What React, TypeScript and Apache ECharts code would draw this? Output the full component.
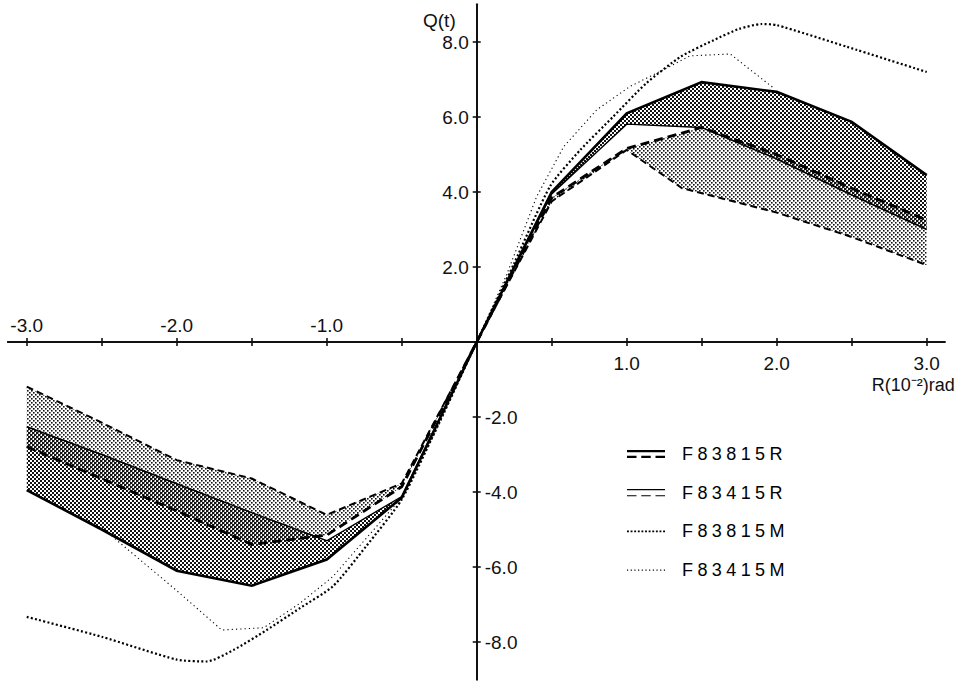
import React, { useEffect, useRef } from "react";
import * as echarts from "echarts";

type Pt = [number, number];

// ---- data (x in 10^-2 rad, y = Q(t)) ----
const F83815R_SOLID: Pt[] = [
  [-3, -3.95], [-2.5, -5.0], [-2, -6.1], [-1.5, -6.5], [-1, -5.8], [-0.5, -4.15], [0, 0],
  [0.5, 4.0], [1, 6.1], [1.5, 6.93], [2, 6.67], [2.5, 5.87], [3, 4.45],
];
const F83815R_DASHED: Pt[] = [
  [-3, -2.79], [-2.5, -3.65], [-2, -4.5], [-1.5, -5.4], [-1, -5.15], [-0.5, -3.86], [0, 0],
  [0.5, 3.85], [1, 5.16], [1.5, 5.72], [2, 5.0], [2.5, 4.1], [3, 3.25],
];
const F83415R_SOLID: Pt[] = [
  [-3, -2.26], [-2.5, -3.0], [-2, -3.78], [-1.5, -4.55], [-1, -5.3], [-0.5, -4.12], [0, 0],
  [0.5, 3.95], [1, 5.81], [1.5, 5.72], [2, 4.88], [2.5, 3.92], [3, 3.0],
];
const F83415R_DASHED: Pt[] = [
  [-3, -1.19], [-2.5, -2.15], [-2, -3.15], [-1.5, -3.64], [-1, -4.61], [-0.5, -3.77], [0, 0],
  [0.5, 3.75], [1, 5.12], [1.37, 4.1], [2, 3.45], [2.5, 2.8], [3, 2.05],
];
const F83815M: Pt[] = [
  [-3, -7.33], [-2.5, -7.86], [-2, -8.47], [-1.8, -8.52], [-1.62, -8.21], [-1.4, -7.68],
  [-1.18, -7.1], [-0.96, -6.52], [-0.74, -5.46], [-0.5, -4.2], [-0.25, -2.15], [0, 0],
  [0.25, 2.1], [0.49, 4.16], [0.69, 5.12], [0.91, 6.01], [1.13, 6.9], [1.36, 7.61],
  [1.58, 8.05], [1.75, 8.35], [1.9, 8.48], [2.0, 8.45], [2.47, 7.87], [3.0, 7.2],
];
const F83415M: Pt[] = [
  [-2.5, -4.95], [-2.0, -6.63], [-1.7, -7.68], [-1.42, -7.62], [-1.18, -6.97], [-0.96, -6.26],
  [-0.74, -5.25], [-0.49, -4.1], [-0.25, -2.2], [0, 0], [0.2, 1.8], [0.4, 3.88], [0.58, 5.21],
  [0.8, 6.19], [1.02, 6.81], [1.24, 7.25], [1.42, 7.63], [1.69, 7.68], [1.91, 6.99], [1.98, 6.77],
];

const X_TICKS = [-3, -2.5, -2, -1.5, -1, -0.5, 0.5, 1, 1.5, 2, 2.5, 3];
const X_LABELS_TOP = [-3, -2, -1];
const X_LABELS_BOTTOM = [1, 2, 3];
const Y_TICKS = [-8, -6, -4, -2, 2, 4, 6, 8];
const Y_LABELS_LEFT = [2, 4, 6, 8];
const Y_LABELS_RIGHT = [-8, -6, -4, -2];
const LEGEND_NAMES = ["F83815R", "F83415R", "F83815M", "F83415M"];
const X_NAME = "R(10⁻²)rad";
const Y_NAME = "Q(t)";

const FONT = "'Liberation Sans', Arial, sans-serif";
const INK = "#111";
const LEGEND_INK = "#010101";

// layout (pixels)
const W = 964;
const H = 681;
const GRID = { left: 8, right: 19.3, top: 4.5, bottom: 1.5 };
const X_RANGE = [-3.125, 3.12];
const Y_RANGE = [-9, 9];

function bandPoints(a: Pt[], b: Pt[], lo: number, hi: number): Pt[] {
  const inA = a.filter((p) => p[0] >= lo && p[0] <= hi);
  const inB = b.filter((p) => p[0] >= lo && p[0] <= hi).reverse();
  return inA.concat(inB);
}

const BAND_REGIONS = [
  { a: F83815R_DASHED, b: F83415R_DASHED, lo: -3, hi: 0, kind: "light" },
  { a: F83815R_DASHED, b: F83415R_DASHED, lo: 0, hi: 3, kind: "light" },
  { a: F83815R_SOLID, b: F83415R_SOLID, lo: -3, hi: 0, kind: "dark" },
  { a: F83815R_SOLID, b: F83415R_SOLID, lo: 0, hi: 3, kind: "dark" },
];

function makePattern(kind: string) {
  const size = 4;
  const c = document.createElement("canvas");
  c.width = size;
  c.height = size;
  const g = c.getContext("2d")!;
  g.fillStyle = "#121212";
  if (kind === "dark") {
    g.fillRect(0, 0, 2, 2);
    g.fillRect(2, 2, 2, 2);
  } else {
    g.fillRect(1, 0, 1.6, 1.6);
    g.fillRect(3, 2, 1, 1.6);
    g.fillRect(0, 2, 0.6, 1.6);
  }
  return { image: c, repeat: "repeat", imageWidth: size, imageHeight: size };
}

function dotIcon(dot: number, period: number, count: number) {
  let d = "path://";
  for (let i = 0; i < count; i++) {
    const x = i * period;
    d += `M${x} 0H${x + dot}V${dot}H${x}Z `;
  }
  return d;
}

const ICON_THICK_R =
  "path://M0 0H38V2.2H0Z M0 5.8H9.5V8H0Z M14.25 5.8H23.75V8H14.25Z M28.5 5.8H38V8H28.5Z";
const ICON_THIN_R =
  "path://M0 0.4H38V1.5H0Z M0 6.6H9.5V7.7H0Z M14.25 6.6H23.75V7.7H14.25Z M28.5 6.6H38V7.7H28.5Z";

const fmt = (v: number) => v.toFixed(1);

export default function App() {
  const ref = useRef<HTMLDivElement>(null);
  useEffect(() => {
    if (!ref.current) return;
    const chart = echarts.init(ref.current, undefined, { renderer: "svg" });
    const patterns: Record<string, any> = { dark: makePattern("dark"), light: makePattern("light") };

    // where value 0 falls, so the axes can be moved onto the zero lines with "offset"
    const gw = W - GRID.left - GRID.right;
    const gh = H - GRID.top - GRID.bottom;
    const zeroX = GRID.left + ((0 - X_RANGE[0]) / (X_RANGE[1] - X_RANGE[0])) * gw;
    const zeroY = GRID.top + ((Y_RANGE[1] - 0) / (Y_RANGE[1] - Y_RANGE[0])) * gh;
    const offLeft = -(zeroX - GRID.left);
    const offRight = -(W - GRID.right - zeroX);
    const offTop = -(zeroY - GRID.top);
    const offBottom = -(H - GRID.bottom - zeroY);

    const lineDefs = [
      { name: LEGEND_NAMES[2], data: F83815M, width: 2.2, type: [2, 2.3] as any, smooth: 0.2 },
      { name: LEGEND_NAMES[3], data: F83415M, width: 1.1, type: [1.2, 3.1] as any, smooth: 0 },
      { name: LEGEND_NAMES[0], data: F83815R_SOLID, width: 2.6, type: "solid" as any, smooth: 0 },
      { name: LEGEND_NAMES[0], data: F83815R_DASHED, width: 2.8, type: [9, 5] as any, smooth: 0 },
      { name: LEGEND_NAMES[1], data: F83415R_SOLID, width: 1.4, type: "solid" as any, smooth: 0 },
      { name: LEGEND_NAMES[1], data: F83415R_DASHED, width: 2.0, type: [7, 4] as any, smooth: 0 },
    ];

    const axisLine = { onZero: false, lineStyle: { color: INK, width: 2 } };
    const tick = (vals: number[]) => ({ show: true, length: 4, customValues: vals, lineStyle: { color: INK, width: 1.6 } });
    const labelBase = { fontSize: 19, lineHeight: 18, color: INK, fontFamily: FONT, formatter: fmt };

    const option: any = {
      animation: false,
      backgroundColor: "#fff",
      textStyle: { fontFamily: FONT },
      grid: { ...GRID, containLabel: false, outerBoundsMode: "none" },
      xAxis: [
        {
          type: "value", min: X_RANGE[0], max: X_RANGE[1], position: "bottom", offset: offBottom,
          axisLine, axisTick: tick(X_TICKS),
          axisLabel: { ...labelBase, customValues: X_LABELS_BOTTOM, margin: 12 },
          splitLine: { show: false },
          name: X_NAME, nameLocation: "end", nameGap: 10, nameMoveOverlap: false,
          nameTextStyle: { fontSize: 18, lineHeight: 17, color: INK, fontFamily: FONT, align: "right", verticalAlign: "top", padding: [34, 0, 0, 0] },
        },
        {
          type: "value", min: X_RANGE[0], max: X_RANGE[1], position: "top", offset: offTop,
          axisLine, axisTick: tick(X_TICKS),
          axisLabel: { ...labelBase, customValues: X_LABELS_TOP, margin: 8 },
          splitLine: { show: false },
        },
      ],
      yAxis: [
        {
          type: "value", min: Y_RANGE[0], max: Y_RANGE[1], position: "left", offset: offLeft,
          axisLine, axisTick: tick(Y_TICKS),
          axisLabel: { ...labelBase, customValues: Y_LABELS_LEFT, margin: 8 },
          splitLine: { show: false },
          name: Y_NAME, nameLocation: "end", nameGap: -25, nameMoveOverlap: false,
          nameTextStyle: { fontSize: 19, color: INK, fontFamily: FONT, align: "right", verticalAlign: "bottom", padding: [0, 21, 0, 0] },
        },
        {
          type: "value", min: Y_RANGE[0], max: Y_RANGE[1], position: "right", offset: offRight,
          axisLine, axisTick: tick(Y_TICKS),
          axisLabel: { ...labelBase, customValues: Y_LABELS_RIGHT, margin: 8 },
          splitLine: { show: false },
        },
      ],
      legend: {
        orient: "vertical", left: 627, top: 444, padding: 0,
        itemWidth: 38, itemHeight: 8, itemGap: 18.7,
        symbolKeepAspect: true, selectedMode: false,
        itemStyle: { color: "#000", borderWidth: 0 },
        textStyle: { fontSize: 18, color: LEGEND_INK, fontFamily: FONT, lineHeight: 20, padding: [0, 0, 0, 12] },
        data: [
          { name: LEGEND_NAMES[0], icon: ICON_THICK_R },
          { name: LEGEND_NAMES[1], icon: ICON_THIN_R },
          { name: LEGEND_NAMES[2], icon: dotIcon(1.8, 3.45, 11) },
          { name: LEGEND_NAMES[3], icon: dotIcon(1.1, 3.45, 11) },
        ],
      },
      series: [
        {
          type: "custom", name: "bands", coordinateSystem: "cartesian2d", xAxisIndex: 0, yAxisIndex: 0,
          silent: true, clip: false, z: 1,
          data: BAND_REGIONS.map(() => [0, 0]),
          renderItem: (params: any, api: any) => {
            const r = BAND_REGIONS[params.dataIndex];
            const pts = bandPoints(r.a, r.b, r.lo, r.hi).map((p) => api.coord(p));
            return { type: "polygon", shape: { points: pts }, style: { fill: patterns[r.kind] } };
          },
        },
        ...lineDefs.map((d) => ({
          type: "line", name: d.name, data: d.data, xAxisIndex: 0, yAxisIndex: 0,
          symbol: "none", showSymbol: false, smooth: d.smooth, silent: true, clip: false, z: 3,
          itemStyle: { color: "#000" },
          lineStyle: { color: "#000", width: d.width, type: d.type, cap: "butt", join: "miter" },
        })),
      ],
    };
    chart.setOption(option);
    return () => chart.dispose();
  }, []);

  const css = `text[fill="${LEGEND_INK}"], text[fill="rgb(1,1,1)"] { letter-spacing: 4.4px; }`;
  return (
    <>
      <style>{css}</style>
      <div
        ref={ref}
        style={{ position: "fixed", left: 0, top: 0, width: W, height: H, background: "#fff" }}
      />
    </>
  );
}
